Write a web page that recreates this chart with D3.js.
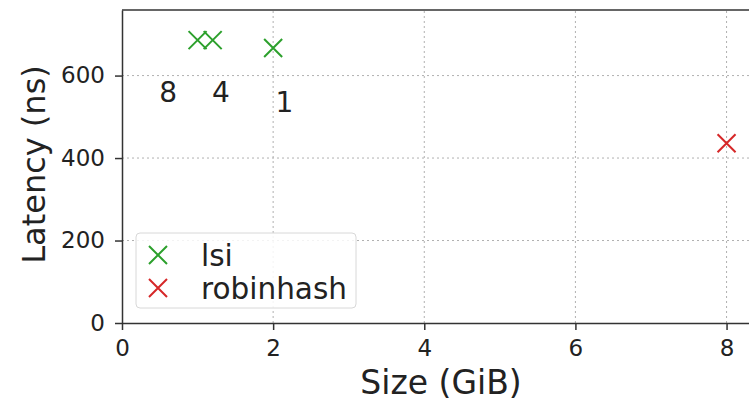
<!DOCTYPE html>
<html>
<head>
<meta charset="utf-8">
<script src="https://cdn.jsdelivr.net/npm/d3@7"></script>
<style>
  body { margin: 0; background: #fff; }
  svg { font-family: "DejaVu Sans", sans-serif; }
</style>
</head>
<body>
<div id="chart"></div>
<script>
// data
const lsiSize = [1.0, 1.2, 2.0];
const lsiLatency = [686, 686, 667];
const robinSize = [8.0];
const robinLatency = [436];
const annoText = ['8', '4', '1'];
const annoX = [0.61, 1.31, 2.15];
const annoY = [560, 560, 537];
const xTicks = [0, 2, 4, 6, 8];
const yTicks = [0, 200, 400, 600];

const width = 749, height = 402;
const margin = { top: 10, right: -4, bottom: 79, left: 122 };

const svg = d3.select('#chart').append('svg')
  .attr('width', width)
  .attr('height', height);

const x = d3.scaleLinear().domain([0, 8.35]).range([margin.left, width - margin.right]);
const y = d3.scaleLinear().domain([0, 759]).range([height - margin.bottom, margin.top]);

// grid lines
const grid = svg.append('g').attr('stroke', '#b0b0b0').attr('stroke-width', 1).attr('stroke-dasharray', '2,3');
grid.selectAll('.gx').data(xTicks.filter(d => d > 0)).enter().append('line')
  .attr('x1', d => x(d)).attr('x2', d => x(d))
  .attr('y1', y.range()[0]).attr('y2', y.range()[1]);
grid.selectAll('.gy').data(yTicks.filter(d => d > 0)).enter().append('line')
  .attr('y1', d => y(d)).attr('y2', d => y(d))
  .attr('x1', x.range()[0]).attr('x2', x.range()[1]);

// axes
const xAxis = svg.append('g')
  .attr('transform', `translate(0,${y(0)})`)
  .call(d3.axisBottom(x).tickValues(xTicks).tickSize(7).tickPadding(10).tickSizeOuter(0));
const yAxis = svg.append('g')
  .attr('transform', `translate(${x(0)},0)`)
  .call(d3.axisLeft(y).tickValues(yTicks).tickSize(7).tickPadding(10).tickSizeOuter(0));
[xAxis, yAxis].forEach(a => {
  a.selectAll('text').attr('font-size', '23px').attr('fill', '#222').attr('font-family', '"DejaVu Sans", sans-serif');
  a.selectAll('line').attr('stroke', '#333').attr('stroke-width', 1.5);
  a.select('.domain').attr('stroke', '#333').attr('stroke-width', 1.5);
});
// top spine
svg.append('line')
  .attr('x1', x.range()[0]).attr('x2', x.range()[1])
  .attr('y1', y.range()[1]).attr('y2', y.range()[1])
  .attr('stroke', '#333').attr('stroke-width', 1.5);

// markers
function cross(g, px, py, color) {
  const s = 9;
  g.append('path')
    .attr('d', `M${px - s},${py - s}L${px + s},${py + s}M${px - s},${py + s}L${px + s},${py - s}`)
    .attr('stroke', color).attr('stroke-width', 2).attr('fill', 'none');
}
const pts = svg.append('g');
lsiSize.forEach((d, i) => cross(pts, x(d), y(lsiLatency[i]), '#2ca02c'));
robinSize.forEach((d, i) => cross(pts, x(d), y(robinLatency[i]), '#d62728'));

// annotations
svg.append('g').selectAll('text').data(annoText).enter().append('text')
  .attr('x', (d, i) => x(annoX[i]))
  .attr('y', (d, i) => y(annoY[i]))
  .attr('text-anchor', 'middle')
  .attr('dy', '0.36em')
  .attr('font-size', '28px')
  .attr('fill', '#222')
  .text(d => d);

// axis titles
svg.append('text')
  .attr('x', 441).attr('y', 394)
  .attr('text-anchor', 'middle')
  .attr('font-size', '33px')
  .attr('fill', '#222')
  .text('Size (GiB)');
svg.append('text')
  .attr('transform', `translate(45,${(y.range()[0] + y.range()[1]) / 2 - 2}) rotate(-90)`)
  .attr('text-anchor', 'middle')
  .attr('font-size', '32px')
  .attr('fill', '#222')
  .text('Latency (ns)');

// legend
const legend = svg.append('g');
legend.append('rect')
  .attr('x', 136).attr('y', 233).attr('width', 220).attr('height', 75)
  .attr('rx', 4).attr('fill', '#fff').attr('fill-opacity', 0.85)
  .attr('stroke', '#d8d8d8').attr('stroke-width', 1);
const legendItems = [{ name: 'lsi', color: '#2ca02c' }, { name: 'robinhash', color: '#d62728' }];
legendItems.forEach((d, i) => {
  const cy = 255 + i * 33;
  cross(legend, 158, cy, d.color);
  legend.append('text')
    .attr('x', 201).attr('y', cy)
    .attr('dy', '0.36em')
    .attr('font-size', '29.5px')
    .attr('fill', '#222')
    .text(d.name);
});
</script>
</body>
</html>
